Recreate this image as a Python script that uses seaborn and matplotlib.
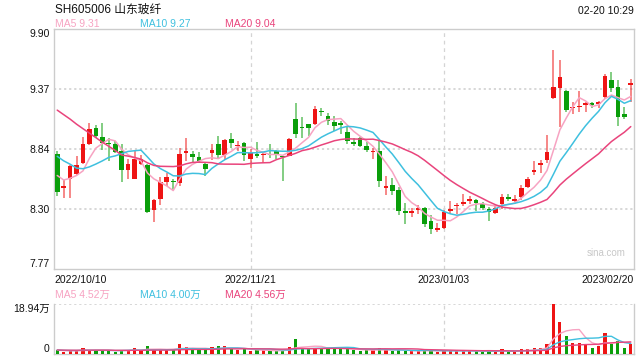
import numpy as np
import pandas as pd
import matplotlib
matplotlib.use("Agg")
import matplotlib.pyplot as plt
import seaborn as sns

sns.set_theme(style="white")
plt.rcParams['font.family'] = ['Liberation Sans', 'Noto Sans CJK SC', 'DejaVu Sans']

# ---------------- data ----------------
title = "SH605006 山东玻纤"
timestamp = "02-20 10:29"
date_labels = ["2022/10/10", "2022/11/21", "2023/01/03", "2023/02/20"]
date_label_idx = [0, 30, 60, 89]
price_ticks = [9.90, 9.3675, 8.835, 8.3025, 7.77]
price_tick_labels = ["9.90", "9.37", "8.84", "8.30", "7.77"]
vol_top = 18.94
vol_tick_labels = ["18.94万", "0"]
price_ma_text = ["MA5 9.31", "MA10 9.27", "MA20 9.04"]
vol_ma_text = ["MA5 4.52万", "MA10 4.00万", "MA20 4.56万"]

open_ = [8.79, 8.49, 8.565, 8.61, 8.71, 8.88, 9.02, 8.94, 8.885, 8.875,
         8.815, 8.645, 8.57, 8.70, 8.695, 8.29, 8.39, 8.545, 8.55, 8.53,
         8.80, 8.79, 8.765, 8.70, 8.80, 8.875, 8.785, 8.92, 8.86, 8.885,
         8.745, 8.79, 8.78, 8.79, 8.815, 8.77, 8.775, 9.105, 9.03, 9.055,
         9.055, 9.17, 9.125, 9.075, 9.06, 8.99, 8.89, 8.935, 8.865, 8.805,
         8.82, 8.49, 8.515, 8.475, 8.28, 8.27, 8.29, 8.315, 8.195, 8.12,
         8.13, 8.285, 8.325, 8.35, 8.375, 8.385, 8.345, 8.305, 8.265, 8.345,
         8.405, 8.375, 8.41, 8.50, 8.63, 8.695, 8.74, 9.29, 9.38, 9.35,
         9.195, 9.205, 9.225, 9.235, 9.235, 9.295, 9.45, 9.385, 9.145, 9.405]
high = [8.82, 8.56, 8.69, 8.77, 8.94, 9.07, 9.05, 9.07, 8.93, 8.905,
        8.88, 8.745, 8.825, 8.785, 8.70, 8.39, 8.585, 8.625, 8.565, 8.845,
        8.935, 8.815, 8.805, 8.715, 8.875, 8.95, 8.925, 8.98, 8.905, 8.895,
        8.835, 8.895, 8.80, 8.875, 8.83, 8.775, 8.935, 9.245, 9.115, 9.06,
        9.22, 9.195, 9.155, 9.13, 9.085, 9.035, 8.935, 8.945, 8.895, 8.845,
        8.905, 8.595, 8.575, 8.50, 8.355, 8.315, 8.335, 8.32, 8.245, 8.175,
        8.29, 8.375, 8.355, 8.44, 8.415, 8.395, 8.365, 8.32, 8.335, 8.435,
        8.44, 8.425, 8.515, 8.585, 8.725, 8.74, 8.955, 9.715, 9.625, 9.355,
        9.25, 9.35, 9.25, 9.255, 9.265, 9.50, 9.515, 9.445, 9.205, 9.46]
low = [8.42, 8.40, 8.40, 8.60, 8.70, 8.87, 8.93, 8.83, 8.73, 8.80,
       8.545, 8.565, 8.565, 8.69, 8.27, 8.19, 8.34, 8.505, 8.475, 8.505,
       8.725, 8.71, 8.71, 8.595, 8.735, 8.755, 8.735, 8.845, 8.815, 8.725,
       8.665, 8.755, 8.715, 8.755, 8.745, 8.55, 8.77, 8.935, 8.935, 8.95,
       9.05, 9.125, 9.045, 8.995, 8.965, 8.875, 8.86, 8.855, 8.805, 8.745,
       8.50, 8.425, 8.425, 8.245, 8.165, 8.23, 8.255, 8.145, 8.08, 8.095,
       8.125, 8.26, 8.26, 8.325, 8.345, 8.285, 8.29, 8.20, 8.26, 8.305,
       8.375, 8.365, 8.385, 8.485, 8.605, 8.625, 8.715, 9.28, 9.03, 9.165,
       9.145, 9.16, 9.165, 9.195, 9.195, 9.28, 9.34, 9.04, 9.105, 9.25]
close = [8.45, 8.50, 8.685, 8.69, 8.88, 9.01, 8.95, 8.89, 8.875, 8.81,
         8.645, 8.70, 8.745, 8.745, 8.275, 8.385, 8.545, 8.585, 8.54, 8.79,
         8.82, 8.76, 8.725, 8.655, 8.825, 8.785, 8.915, 8.885, 8.87, 8.785,
         8.80, 8.775, 8.79, 8.78, 8.79, 8.76, 8.92, 8.965, 9.02, 9.025,
         9.19, 9.16, 9.085, 9.04, 9.05, 8.905, 8.88, 8.865, 8.83, 8.815,
         8.555, 8.50, 8.46, 8.285, 8.27, 8.28, 8.315, 8.165, 8.125, 8.13,
         8.275, 8.295, 8.335, 8.36, 8.385, 8.355, 8.315, 8.275, 8.315, 8.41,
         8.395, 8.385, 8.485, 8.565, 8.65, 8.71, 8.81, 9.385, 9.47, 9.18,
         9.205, 9.215, 9.235, 9.225, 9.255, 9.48, 9.375, 9.12, 9.12, 9.415]
# volume in 万
volume = [1.4, 0.65, 1.1, 1.4, 2.1, 1.5, 1.4, 1.3, 1.4, 0.8,
          1.5, 1.4, 2.1, 1.1, 2.9, 1.6, 1.6, 1.6, 1.5, 3.7,
          2.5, 1.8, 1.4, 1.5, 2.5, 3.0, 2.9, 2.0, 1.4, 1.9,
          1.1, 1.4, 1.4, 1.1, 1.1, 1.4, 2.5, 5.6, 2.4, 1.9,
          2.4, 2.1, 2.4, 2.1, 1.9, 2.0, 1.5, 1.0, 1.4, 1.4,
          2.4, 1.5, 1.0, 1.5, 1.1, 1.1, 1.1, 1.4, 1.4, 0.8,
          1.5, 1.1, 1.1, 1.3, 1.1, 1.1, 0.8, 1.3, 0.9, 1.8,
          0.9, 0.9, 1.8, 1.8, 2.1, 2.1, 3.7, 18.94, 12.0, 7.0,
          4.2, 4.2, 3.7, 2.1, 3.2, 7.8, 3.9, 5.1, 2.1, 3.7]
# sessions before the visible window (feed the moving averages only)
prior_close = [9.30, 9.48, 9.59, 9.68, 9.80, 9.75, 9.70, 9.60, 9.55, 9.45,
               8.90, 8.985, 9.04, 8.93, 8.845, 8.70, 8.61, 8.565, 8.675]
prior_volume = [1.6, 1.5, 1.7, 1.4, 1.6, 1.5, 1.3, 1.8, 1.5, 1.4,
                1.6, 1.7, 1.5, 1.4, 1.3, 1.6, 1.5, 1.4, 1.5]

# ---------------- styles ----------------
RED = "#ee1414"
GREEN = "#0a9e0a"
MA_COLORS = ["#f7a3c2", "#3fc0df", "#e9447c"]
GRID = "#d4d4d4"
BORDER = "#cccccc"

n = len(close)
idx = np.arange(n)
o = np.array(open_); c = np.array(close); h = np.array(high); l = np.array(low)
up = c >= o
cols = np.where(up, RED, GREEN)

full_close = pd.Series(prior_close + close)
full_vol = pd.Series(prior_volume + volume)
k = len(prior_close)
ma_price = [full_close.rolling(w).mean().values[k:] for w in (5, 10, 20)]
ma_vol = [full_vol.rolling(w).mean().values[k:] for w in (5, 10, 20)]

W, H = 640, 360
fig = plt.figure(figsize=(6.4, 3.6), dpi=100)
fig.patch.set_facecolor("white")
ax = fig.add_axes([54 / W, 1 - 269 / H, 580 / W, 240 / H])
axv = fig.add_axes([54 / W, 1 - 354 / H, 580 / W, 50 / H])

# ---- main price panel ----
for t in price_ticks[1:-1]:
    ax.axhline(t, color=GRID, lw=1.3, ls=(0, (1.2, 1.6)), zorder=0)
for j in date_label_idx[1:3]:
    ax.axvline(j, color=GRID, lw=0.9, ls=(0, (3, 3)), zorder=0)
    axv.axvline(j, color=GRID, lw=0.9, ls=(0, (3, 3)), zorder=0)

ax.vlines(idx, l, h, colors=cols, lw=1.3, alpha=0.55, zorder=2)
body_bottom = np.minimum(o, c)
body_h = np.maximum(np.abs(c - o), 0.014)
ax.bar(idx, body_h, bottom=body_bottom, width=0.72, color=cols, lw=0, zorder=3)

for ma, col in zip(ma_price, MA_COLORS):
    sns.lineplot(x=idx, y=ma, ax=ax, color=col, lw=1.1, zorder=4)

ax.set_xlim(-0.5, n - 0.5)
ax.set_ylim(price_ticks[-1], price_ticks[0])
ax.set_yticks(price_ticks)
ax.set_yticklabels(price_tick_labels)
ax.tick_params(axis="y", length=0, pad=3, labelsize=7.5, labelcolor="#111111")
tl = ax.get_yticklabels()
tl[0].set_va("top")
tl[-1].set_va("bottom")
ax.set_xticks([])
for s in ax.spines.values():
    s.set_color(BORDER)
    s.set_linewidth(1.0)
ax.set_xlabel(""); ax.set_ylabel("")

# ---- volume panel ----
vcols = cols
axv.bar(idx, volume, width=0.5, color=vcols, lw=0, zorder=3)
for ma, col in zip(ma_vol, MA_COLORS):
    sns.lineplot(x=idx, y=ma, ax=axv, color=col, lw=1.0, zorder=4)
axv.axhline(vol_top, color=GRID, lw=1.3, ls=(0, (1.2, 1.6)), zorder=0)
axv.set_xlim(-0.5, n - 0.5)
axv.set_ylim(0, vol_top)
axv.set_yticks([vol_top, 0])
axv.set_yticklabels(vol_tick_labels)
axv.tick_params(axis="y", length=0, pad=3, labelsize=7.5, labelcolor="#111111")
vl = axv.get_yticklabels()
vl[0].set_va("top")
vl[-1].set_va("bottom")
axv.set_xticks([])
axv.spines["top"].set_visible(False)
for s in ("left", "right", "bottom"):
    axv.spines[s].set_color(BORDER)
    axv.spines[s].set_linewidth(1.0)
axv.set_xlabel(""); axv.set_ylabel("")

# ---- texts ----
def fpos(px, py):
    return px / W, 1 - py / H

fig.text(*fpos(55, 10), title, fontsize=8.5, color="#111111", va="center", ha="left")
fig.text(*fpos(634, 11), timestamp, fontsize=7.5, color="#111111", va="center", ha="right")
for txt, col, xp in zip(price_ma_text, MA_COLORS, (55, 140, 225)):
    fig.text(*fpos(xp, 24), txt, fontsize=7.5, color=col, va="center", ha="left")
for txt, col, xp in zip(vol_ma_text, MA_COLORS, (55, 140, 225)):
    fig.text(*fpos(xp, 295), txt, fontsize=7.5, color=col, va="center", ha="left")

# date labels under the main panel
aligns = ["left", "center", "center", "right"]
for lab, j, ha in zip(date_labels, date_label_idx, aligns):
    xpos = j if ha == "center" else (-0.5 if ha == "left" else n - 0.5)
    ax.text(xpos, -0.025, lab, transform=ax.get_xaxis_transform(), fontsize=7.5,
            color="#111111", ha=ha, va="top")

ax.text(0.985, 0.065, "sina.com", transform=ax.transAxes, fontsize=7,
        color="#c8c8c8", ha="right", va="center")

fig.savefig("out.png", dpi=100, facecolor="white")
